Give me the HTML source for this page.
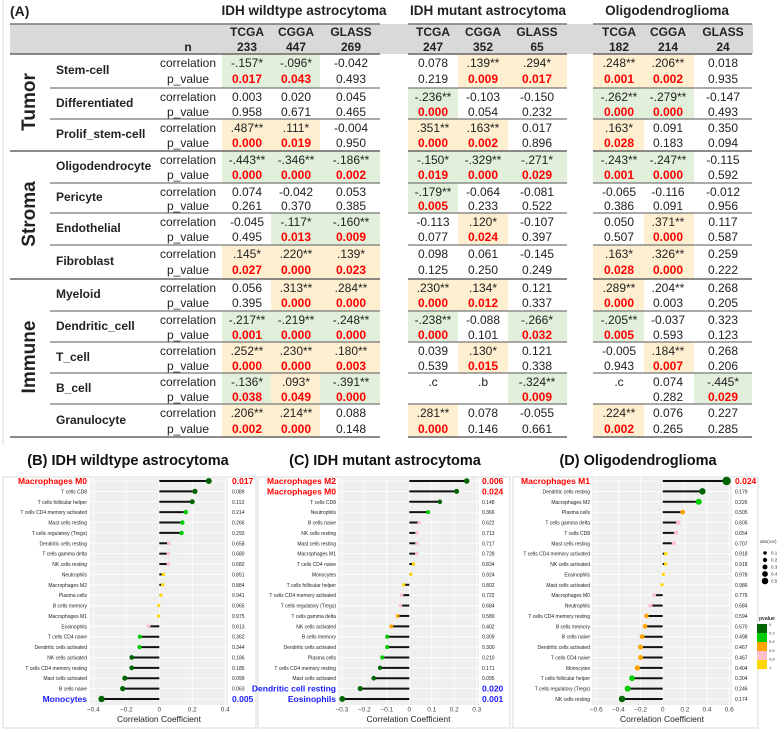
<!DOCTYPE html>
<html><head><meta charset="utf-8"><style>
body{margin:0;background:#fff;}
#root{position:relative;width:784px;height:732px;overflow:hidden;background:#fff;font-family:"Liberation Sans",sans-serif;color:#222;}
.a{position:absolute;white-space:nowrap;}
</style></head><body>
<div id="root">
<div class="a" style="left:10px;top:3px;font-size:14px;font-weight:bold;">(A)</div>
<svg id="tsvg" class="a" style="left:0;top:0" width="784" height="445"></svg>
<div id="tbl"></div>
<svg id="csvg" class="a" style="left:0;top:445px" width="784" height="287"></svg>
</div>
<script>
// ---------- Table data ----------
const groups = ["IDH wildtype astrocytoma","IDH mutant astrocytoma","Oligodendroglioma"];
const cohorts = ["TCGA","CGGA","GLASS","TCGA","CGGA","GLASS","TCGA","CGGA","GLASS"];
const cohortN = ["233","447","269","247","352","65","182","214","24"];
const rowNames = ["Stem-cell","Differentiated","Prolif_stem-cell","Oligodendrocyte","Pericyte","Endothelial","Fibroblast","Myeloid","Dendritic_cell","T_cell","B_cell","Granulocyte"];
const corVals = [
["-.157*","-.096*","-0.042","0.078",".139**",".294*",".248**",".206**","0.018"],
["0.003","0.020","0.045","-.236**","-0.103","-0.150","-.262**","-.279**","-0.147"],
[".487**",".111*","-0.004",".351**",".163**","0.017",".163*","0.091","0.350"],
["-.443**","-.346**","-.186**","-.150*","-.329**","-.271*","-.243**","-.247**","-0.115"],
["0.074","-0.042","0.053","-.179**","-0.064","-0.081","-0.065","-0.116","-0.012"],
["-0.045","-.117*","-.160**","-0.113",".120*","-0.107","0.050",".371**","0.117"],
[".145*",".220**",".139*","0.098","0.061","-0.145",".163*",".326**","0.259"],
["0.056",".313**",".284**",".230**",".134*","0.121",".289**",".204**","0.268"],
["-.217**","-.219**","-.248**","-.238**","-0.088","-.266*","-.205**","-0.037","0.323"],
[".252**",".230**",".180**","0.039",".130*","0.121","-0.005",".184**","0.268"],
["-.136*",".093*","-.391**",".c",".b","-.324**",".c","0.074","-.445*"],
[".206**",".214**","0.088",".281**","0.078","-0.055",".224**","0.076","0.227"]];
const pVals = [
["0.017","0.043","0.493","0.219","0.009","0.017","0.001","0.002","0.935"],
["0.958","0.671","0.465","0.000","0.054","0.232","0.000","0.000","0.493"],
["0.000","0.019","0.950","0.000","0.002","0.896","0.028","0.183","0.094"],
["0.000","0.000","0.002","0.019","0.000","0.029","0.001","0.000","0.592"],
["0.261","0.370","0.385","0.005","0.233","0.522","0.386","0.091","0.956"],
["0.495","0.013","0.009","0.077","0.024","0.397","0.507","0.000","0.587"],
["0.027","0.000","0.023","0.125","0.250","0.249","0.028","0.000","0.222"],
["0.395","0.000","0.000","0.000","0.012","0.337","0.000","0.003","0.205"],
["0.001","0.000","0.000","0.000","0.101","0.032","0.005","0.593","0.123"],
["0.000","0.000","0.003","0.539","0.015","0.338","0.943","0.007","0.206"],
["0.038","0.049","0.000","","","0.009","","0.282","0.029"],
["0.002","0.000","0.148","0.000","0.146","0.661","0.002","0.265","0.285"]];
const notHighlighted = ["7-7"];
const sectionNames = ["Tumor","Stroma","Immune"];
const sectionRows = [3,4,5];

const root=document.getElementById('root');
const tsvg=document.getElementById('tsvg');
const NS="http://www.w3.org/2000/svg";
const colC=[247,296,351,433,483,537,619,668,723];
const colL=[222,271,320,408,458,508,593,644,694];
const colR=[271,320,380,458,508,567,644,694,752];
const rowB=[54,88,119,151,183,213,245,279,311,342,373,404,437];
const gL=[10,408,593], gR=[380,567,752], gTC=[304,488,667];
function div(txt,css){const d=document.createElement('div');d.className='a';d.textContent=txt;d.style.cssText=css;root.appendChild(d);return d;}
function line(svg,x1,y1,x2,y2,c,w){const l=document.createElementNS(NS,'line');l.setAttribute('x1',x1);l.setAttribute('y1',y1);l.setAttribute('x2',x2);l.setAttribute('y2',y2);l.setAttribute('stroke',c);l.setAttribute('stroke-width',w);svg.appendChild(l);return l;}
function rect(svg,x,y,w,h,f){const r=document.createElementNS(NS,'rect');r.setAttribute('x',x);r.setAttribute('y',y);r.setAttribute('width',w);r.setAttribute('height',h);r.setAttribute('fill',f);svg.appendChild(r);return r;}
rect(tsvg,10,24,743,30,'#d9d9d9');
line(tsvg,3,0,3,445,'#ddd',1);
groups.forEach((g,i)=>{
  const d=div(g,`left:${gTC[i]-110}px;width:220px;text-align:center;top:3px;font-size:13.5px;font-weight:bold;`);
  
  
  line(tsvg,gL[i],24,gR[i],24,'#777',1.5);
});
const nd=div('n',`left:178px;width:20px;text-align:center;top:40px;font-size:12px;font-weight:bold;`);


cohorts.forEach((c,i)=>{
  const d=div(c+'\n'+cohortN[i],`left:${colC[i]-30}px;width:60px;text-align:center;top:25px;font-size:12px;font-weight:bold;white-space:pre;line-height:15px;`);
  
  
});
rowNames.forEach((r,ri)=>{
  for(let c=0;c<9;c++){
    const cv=corVals[ri][c];
    const sig=cv.includes('*') && !notHighlighted.includes(ri+'-'+c);
    if(sig){
      rect(tsvg,colL[c],rowB[ri]+0.5,colR[c]-colL[c],rowB[ri+1]-rowB[ri]-1,cv.startsWith('-')?'#e2efda':'#fdefd0');
    }
  }
});
let sectionStart=[0,3,7];
rowB.forEach((y,i)=>{
  const isSec=sectionStart.includes(i)||i==12;
  for(let g=0;g<3;g++){
    const x1=g==0?(isSec?10:50):gL[g];
    line(tsvg,x1,y,gR[g],y,isSec?'#666':'#777',isSec?1.6:1.2);
  }
});
sectionNames.forEach((s,i)=>{
  const y0=rowB[sectionStart[i]], y1=rowB[sectionStart[i]+sectionRows[i]];
  const d=div(s,`left:${30-60}px;width:120px;text-align:center;top:${(y0+y1)/2-12}px;font-size:19px;font-weight:bold;transform:rotate(-90deg);`);
  
  
});
rowNames.forEach((r,ri)=>{
  const y0=rowB[ri], h=rowB[ri+1]-y0;
  const d=div(r,`left:56px;top:${y0+h/2-8}px;font-size:12px;font-weight:bold;`);
  
  
  const c1=div('correlation',`left:148px;width:80px;text-align:center;top:${y0+2}px;font-size:12px;`);
  
  
  const c2=div('p_value',`left:148px;width:80px;text-align:center;top:${y0+h/2+1}px;font-size:12px;`);
  
  
  for(let c=0;c<9;c++){
    const cv=corVals[ri][c], pv=pVals[ri][c];
    const sig=cv.includes('*') && !notHighlighted.includes(ri+'-'+c);
    const e1=div(cv,`left:${colC[c]-30}px;width:60px;text-align:center;top:${y0+2}px;font-size:12px;`);
    
    
    if(pv!==''){
      const e2=div(pv,`left:${colC[c]-30}px;width:60px;text-align:center;top:${y0+h/2+1}px;font-size:12px;${sig?'color:#ff0000;font-weight:bold;':''}`);
      
      
    }
  }
});

// ---------- Lollipop chart data ----------
const bCells = ["Macrophages M0","T cells CD8","T cells follicular helper","T cells CD4 memory activated","Mast cells resting","T cells regulatory (Tregs)","Dendritic cells resting","T cells gamma delta","NK cells resting","Neutrophils","Macrophages M2","Plasma cells","B cells memory","Macrophages M1","Eosinophils","T cells CD4 naive","Dendritic cells activated","NK cells activated","T cells CD4 memory resting","Mast cells activated","B cells naive","Monocytes"];
const bCor = [0.30,0.216,0.20,0.16,0.14,0.135,0.058,0.055,0.055,0.025,0.02,0.01,-0.003,-0.004,-0.065,-0.118,-0.12,-0.167,-0.167,-0.209,-0.222,-0.35];
const bP = ["0.017","0.089","0.113","0.214","0.266","0.293","0.658","0.680","0.682","0.851","0.884","0.941","0.965","0.975","0.613","0.362","0.344","0.186","0.185","0.099","0.063","0.005"];
const cCells = ["Macrophages M2","Macrophages M0","T cells CD8","Neutrophils","B cells naive","NK cells resting","Mast cells resting","Macrophages M1","T cells CD4 naive","Monocytes","T cells follicular helper","T cells CD4 memory activated","T cells regulatory (Tregs)","T cells gamma delta","NK cells activated","B cells memory","Dendritic cells activated","Plasma cells","T cells CD4 memory resting","Mast cells activated","Dendritic cell resting","Eosinophils"];
const cCor = [0.255,0.21,0.136,0.084,0.044,0.034,0.034,0.033,0.019,0.007,-0.025,-0.034,-0.039,-0.052,-0.08,-0.098,-0.098,-0.12,-0.13,-0.158,-0.218,-0.298];
const cP = ["0.006","0.024","0.148","0.366","0.622","0.713","0.717","0.728","0.834","0.924","0.802","0.722","0.684","0.589","0.402","0.309","0.300","0.210","0.171","0.095","0.020","0.001"];
const dCells = ["Macrophages M1","Dendritic cells resting","Macrophages M2","Plasma cells","T cells gamma delta","T cells CD8","Mast cells resting","T cells CD4 memory activated","NK cells activated","Eosinophils","Mast cells activated","Macrophages M0","Neutrophils","T cells CD4 memory resting","B cells memory","B cells naive","Dendritic cells activated","T cells CD4 naive","Monocytes","T cells follicular helper","T cells regulatory (Tregs)","NK cells resting"];
const dCor = [0.577,0.358,0.325,0.18,0.141,0.12,0.10,0.027,0.027,0.006,-0.006,-0.078,-0.111,-0.147,-0.16,-0.186,-0.2,-0.2,-0.229,-0.277,-0.316,-0.367];
const dP = ["0.024","0.179","0.226","0.505","0.605","0.654","0.707","0.918","0.918","0.978","0.986","0.776","0.684","0.594","0.570","0.498","0.467","0.467","0.404","0.304","0.246","0.174"];
const bTicks = [-0.4,-0.2,0,0.2,0.4];
const cTicks = [-0.3,-0.2,-0.1,0,0.1,0.2,0.3];
const dTicks = [-0.6,-0.4,-0.2,0,0.2,0.4,0.6];
const legendSizes = [0.1,0.2,0.3,0.4,0.5];
const legendP = ["0","0.2","0.4","0.6","0.8","1"];

const csvg=document.getElementById('csvg');
const OY=445;
function txt(svg,x,y,s,attrs){const t=document.createElementNS(NS,'text');t.setAttribute('x',x);t.setAttribute('y',y);t.textContent=s;for(const k in attrs)t.setAttribute(k,attrs[k]);svg.appendChild(t);return t;}
function pColor(p){p=+p;if(p<0.2)return '#006400';if(p<0.4)return '#00cc00';if(p<0.6)return '#ffa500';if(p<0.8)return '#ffc0cb';return '#ffd700';}
function rad(c){return 1.6+4.5*Math.abs(c);}
const panels=[
 {title:"(B) IDH wildtype astrocytoma",tc:128,box:[3,256],cells:bCells,cor:bCor,p:bP,ticks:bTicks,zero:159.3,scale:165,pl:90,pr:228,lr:87,vx:232},
 {title:"(C) IDH mutant astrocytoma",tc:385,box:[258,510],cells:cCells,cor:cCor,p:cP,ticks:cTicks,zero:409.3,scale:225,pl:338,pr:479,lr:336,vx:482},
 {title:"(D) Oligodendroglioma",tc:638,box:[513,758],cells:dCells,cor:dCor,p:dP,ticks:dTicks,zero:662.7,scale:110.8,pl:592,pr:732,lr:590,vx:735}];
const rowY=i=>481-OY+i*10.38;
panels.forEach((P,pi)=>{
  const xs=v=>P.zero+v*P.scale;
  const t=txt(csvg,P.tc,460-OY+5,P.title,{'text-anchor':'middle','font-size':'14.5','font-weight':'bold','fill':'#111'});
  
  
  const b=rect(csvg,P.box[0],477-OY,P.box[1]-P.box[0],251,'none');
  b.setAttribute('stroke','#d8d8d8');
  const bg=rect(csvg,P.pl,477-OY,P.pr-P.pl,rowY(P.cells.length-1)+6-(477-OY),'#efefef');
  
  
  P.ticks.forEach(tv=>{
    line(csvg,xs(tv),477-OY,xs(tv),rowY(P.cells.length-1)+6,'#fff',0.8);
    const tl=txt(csvg,xs(tv),709-OY+2.5,String(tv).replace('-','−'),{'text-anchor':'middle','font-size':'6.5','fill':'#444'});
    
    
  });
  P.cells.forEach((c,i)=>{
    const y=rowY(i);
    line(csvg,P.pl,y,P.pr,y,'#fff',0.8);
    const sig=+P.p[i]<0.05;
    const col=sig?(P.cor[i]>0?'#ff0000':'#1a1aff'):'#222';
    const lb=txt(csvg,P.lr,y+(sig?3:2),c,{'text-anchor':'end','font-size':sig?'8.5':'5','font-weight':sig?'bold':'normal','fill':col});
    
    
    const ln=line(csvg,xs(0),y,xs(P.cor[i]),y,'#111',2);
    
    
    const ci=document.createElementNS(NS,'circle');
    ci.setAttribute('cx',xs(P.cor[i]));ci.setAttribute('cy',y);ci.setAttribute('r',rad(P.cor[i]));ci.setAttribute('fill',pColor(P.p[i]));
    
    
    csvg.appendChild(ci);
    const vl=txt(csvg,P.vx,y+(sig?3:2),P.p[i],{'font-size':sig?'8.5':'5','font-weight':sig?'bold':'normal','fill':col});
    
    
  });
  const at=txt(csvg,(P.pl+P.pr)/2,720-OY+2,'Correlation Coefficient',{'text-anchor':'middle','font-size':'8.5','fill':'#222'});
  
  
});
const lt=txt(csvg,760,543-OY,'abs(cor)',{'font-size':'4.5','fill':'#333'});


legendSizes.forEach((s,i)=>{
  const y=553-OY+i*7;
  const c=document.createElementNS(NS,'circle');
  c.setAttribute('cx',765);c.setAttribute('cy',y);c.setAttribute('r',rad(s)*0.85);c.setAttribute('fill','#000');
  
  
  csvg.appendChild(c);
  txt(csvg,771,y+1.5,String(s),{'font-size':'4.5','fill':'#333'});
});
const pt=txt(csvg,759,620-OY,'pvalue',{'font-size':'5','font-weight':'bold','fill':'#333'});


const legCols=['#006400','#00cc00','#ffa500','#ffc0cb','#ffd700'];
legCols.forEach((c,i)=>{
  const r=rect(csvg,757,624-OY+i*9,10,9,c);
  
  
});
legendP.forEach((s,i)=>txt(csvg,769,626-OY+i*8.6,s,{'font-size':'4','fill':'#333'}));
</script>
</body></html>
